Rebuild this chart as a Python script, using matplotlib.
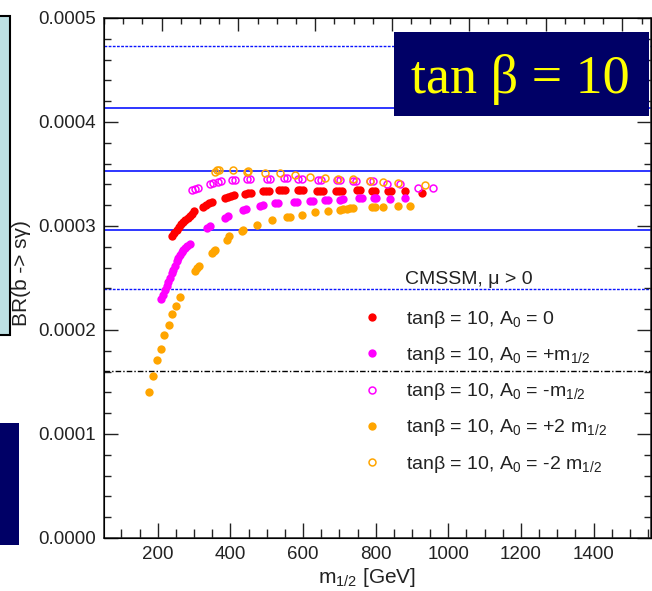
import matplotlib
matplotlib.use("Agg")
import matplotlib.pyplot as plt
from matplotlib.ticker import MultipleLocator, FixedLocator, NullFormatter
from matplotlib.patches import Rectangle

# --- data (m_1/2 in GeV, BR in units of 1e-4) ---
m_a0 = [240, 246, 252, 258, 264, 270, 276, 282, 288, 294, 300, 325, 333, 341, 349,
        385, 393, 401, 409, 440, 448, 456, 490, 498, 506, 535, 543, 551, 585, 593,
        601, 638, 646, 654, 690, 698, 706, 748, 756, 789, 797, 835, 843, 881, 927]
br_a0 = [2.90, 2.93, 2.96, 2.99, 3.02, 3.04, 3.06, 3.08, 3.10, 3.12, 3.14, 3.18, 3.20,
         3.22, 3.23, 3.27, 3.28, 3.29, 3.30, 3.31, 3.32, 3.32, 3.34, 3.34, 3.34, 3.35,
         3.35, 3.35, 3.35, 3.35, 3.35, 3.34, 3.34, 3.34, 3.34, 3.34, 3.34, 3.35, 3.35,
         3.34, 3.34, 3.34, 3.34, 3.34, 3.32]

m_pm = [208, 214, 220, 225, 229, 234, 238, 243, 248, 253, 257, 262, 266, 270, 275, 280,
        289, 335, 343, 385, 393, 436, 444, 482, 490, 524, 532, 574, 582, 620, 628, 661,
        669, 702, 710, 753, 761, 794, 802, 839, 881]
br_pm = [2.30, 2.34, 2.38, 2.42, 2.46, 2.50, 2.55, 2.58, 2.62, 2.66, 2.69, 2.72, 2.75,
         2.77, 2.79, 2.81, 2.83, 2.98, 3.00, 3.08, 3.10, 3.15, 3.16, 3.19, 3.20, 3.22,
         3.22, 3.23, 3.23, 3.24, 3.24, 3.25, 3.25, 3.25, 3.26, 3.27, 3.27, 3.27, 3.27,
         3.26, 3.27]

m_mm = [294, 303, 312, 344, 352, 367, 375, 404, 412, 445, 454, 500, 509, 548, 555, 587,
        596, 642, 650, 693, 702, 738, 745, 784, 792, 830, 867, 917, 959]
br_mm = [3.35, 3.36, 3.37, 3.40, 3.41, 3.42, 3.43, 3.44, 3.44, 3.45, 3.45, 3.45, 3.45,
         3.46, 3.46, 3.45, 3.45, 3.44, 3.44, 3.44, 3.44, 3.43, 3.43, 3.43, 3.43, 3.40,
         3.40, 3.37, 3.37]

m_p2m = [177, 186, 199, 208, 217, 231, 240, 250, 261, 303, 309, 314, 349, 354, 358, 390,
         396, 431, 436, 472, 514, 556, 564, 596, 633, 670, 702, 711, 720, 730, 738, 789,
         797, 821, 862, 894]
br_p2m = [1.40, 1.56, 1.71, 1.82, 1.95, 2.05, 2.15, 2.23, 2.32, 2.57, 2.60, 2.62, 2.74,
          2.76, 2.77, 2.87, 2.90, 2.95, 2.96, 3.01, 3.06, 3.09, 3.09, 3.11, 3.13, 3.14,
          3.15, 3.16, 3.16, 3.17, 3.17, 3.18, 3.18, 3.18, 3.19, 3.19]

m_m2m = [358, 362, 368, 408, 445, 449, 495, 537, 578, 619, 661, 697, 738, 784, 821, 862, 936]
br_m2m = [3.52, 3.54, 3.54, 3.54, 3.52, 3.53, 3.51, 3.51, 3.49, 3.47, 3.46, 3.45, 3.45,
          3.43, 3.42, 3.41, 3.39]

# horizontal reference lines (BR)
solid_lines = [4.135e-4, 3.53e-4, 2.96e-4]
dotted_lines = [4.73e-4, 2.39e-4]
dashdot_line = 1.61e-4

labels = ["tan\u03b2 = 10, A$_0$ = 0",
          "tan\u03b2 = 10, A$_0$ = +m$_{1/2}$",
          "tan\u03b2 = 10, A$_0$ = -m$_{1/2}$",
          "tan\u03b2 = 10, A$_0$ = +2 m$_{1/2}$",
          "tan\u03b2 = 10, A$_0$ = -2 m$_{1/2}$"]

plt.rcParams["font.family"] = ["Liberation Sans", "DejaVu Sans"]
plt.rcParams["mathtext.fontset"] = "custom"
plt.rcParams["mathtext.rm"] = "Liberation Sans"
plt.rcParams["mathtext.it"] = "Liberation Sans:italic"
plt.rcParams["mathtext.bf"] = "Liberation Sans:bold"

W, H = 652, 591
fig = plt.figure(figsize=(W / 100, H / 100), dpi=100)
ax = fig.add_axes([104 / W, (H - 538) / H, (651 - 104) / W, 520 / H])

def scale(v):
    return [b * 1e-4 for b in v]

for y in solid_lines:
    ax.axhline(y, color="#0a14ff", lw=1.2, zorder=1)
for y in dotted_lines:
    ax.axhline(y, color="#0a14ff", lw=1.0, ls=(0, (2, 1)), zorder=1)
ax.axhline(dashdot_line, color="black", lw=1.0, ls=(0, (4, 1.5, 1, 1.5)), zorder=1)

ms = 6
h1, = ax.plot(m_a0, scale(br_a0), "o", ms=ms, color="#ff0000", mew=0)
h2, = ax.plot(m_pm, scale(br_pm), "o", ms=ms, color="#ff00ff", mew=0)
h3, = ax.plot(m_mm, scale(br_mm), "o", ms=5, mfc="none", mec="#ff00ff", mew=1.1)
h4, = ax.plot(m_p2m, scale(br_p2m), "o", ms=ms, color="#ffa500", mew=0)
h5, = ax.plot(m_m2m, scale(br_m2m), "o", ms=5, mfc="none", mec="#ffa500", mew=1.1)

ax.set_xlim(52, 1558)
ax.set_ylim(0, 0.0005)
ax.xaxis.set_minor_locator(MultipleLocator(50))
ax.yaxis.set_major_locator(MultipleLocator(0.0001))
ax.yaxis.set_minor_locator(MultipleLocator(0.00002))
ax.yaxis.set_major_formatter(plt.FormatStrFormatter("%.4f"))
ax.set_xticks([200, 400, 600, 800, 1000, 1200, 1400])
ax.tick_params(which="both", direction="in", width=1.0, colors="#222222",
               labelsize=13.5, right=True, top=False)
ax.tick_params(axis="x", which="major", length=11, pad=6)
ax.tick_params(axis="x", which="minor", length=6.5)
ax.tick_params(axis="y", which="major", length=10, pad=6)
ax.tick_params(axis="y", which="minor", length=5)
for s in ax.spines.values():
    s.set_linewidth(1.1)
    s.set_color("#222222")

# top axis has its own tick spacing in the original
top = ax.twiny()
top.set_xlim(0, 547 / 19.2)
top.xaxis.set_major_locator(FixedLocator([3, 7, 11, 15, 19, 23, 27]))
top.xaxis.set_minor_locator(MultipleLocator(1))
top.xaxis.set_major_formatter(NullFormatter())
top.tick_params(which="both", direction="in", width=1.0, colors="#222222")
top.tick_params(which="major", length=9)
top.tick_params(which="minor", length=4.5)

ax.set_xlabel("m$_{1/2}$ [GeV]", fontsize=15, color="#222222")
ax.xaxis.set_label_coords((367 - 104) / 547, -0.054)
ax.set_ylabel("BR(b -> s\u03b3)", fontsize=15, color="#222222")
ax.yaxis.set_label_coords((31 - 104) / 547, 0.51)

fig.text(405 / W, 1 - 279 / H, "CMSSM, \u03bc > 0", fontsize=14,
         color="#222222", va="center", ha="left")
ax.legend([h1, h2, h3, h4, h5], labels, loc="upper left",
          bbox_to_anchor=(357 / W, 1 - 309 / H), bbox_transform=fig.transFigure,
          frameon=False, fontsize=14, handlelength=1.5, handletextpad=1.0,
          labelspacing=0.78, borderpad=0, borderaxespad=0, labelcolor="#222222")

# slide overlays
def rect(x0, y0, x1, y1, **kw):
    r = Rectangle((x0 / W, 1 - y1 / H), (x1 - x0) / W, (y1 - y0) / H,
                  transform=fig.transFigure, zorder=5, **kw)
    fig.add_artist(r)

rect(-2, 16, 10, 335, fc="#bde0e3", ec="black", lw=1.5)
rect(-2, 423, 19, 545, fc="#000066", ec="none")
rect(394, 32, 649, 116, fc="#000066", ec="none")
fig.text(520 / W, 1 - 93 / H, "tan \u03b2 = 10", fontsize=39, color="#ffff00",
         family="Liberation Serif", ha="center", va="baseline", zorder=6)

fig.savefig("out.png", dpi=100)
